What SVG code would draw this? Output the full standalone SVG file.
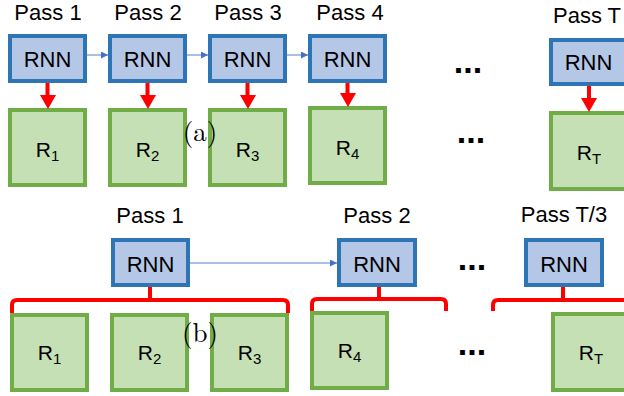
<svg xmlns="http://www.w3.org/2000/svg" width="624" height="396" viewBox="0 0 624 396">
  <defs>
    <marker id="blueHead" viewBox="0 0 10 10" refX="10" refY="5" markerWidth="7" markerHeight="7" markerUnits="userSpaceOnUse" orient="auto">
      <path d="M0,0 L10,5 L0,10 Z" fill="#4472c4"/>
    </marker>
    <style>
      .rnn rect { fill: #b4c7e7; stroke: #2e75b6; stroke-width: 4; }
      .res rect { fill: #c5e0b4; stroke: #70ad47; stroke-width: 4; }
      .lbl { font-family: "Liberation Sans", Arial, sans-serif; fill: #000; text-anchor: middle; }
      .pass { font-size: 22px; }
      .rtxt { font-size: 22px; }
      .rsub { font-size: 21px; }
      .sub { font-size: 15px; }
      .cap { font-family: "Latin Modern Roman", "Liberation Serif", "DejaVu Serif", serif; font-size: 27px; text-anchor: middle; fill: #000; }
      .dots { font-family: "Liberation Sans", Arial, sans-serif; font-size: 34px; font-weight: bold; text-anchor: middle; fill: #000; }
      .seq { stroke: #8faadc; stroke-width: 1.5; fill: none; }
      .down { fill: #ff0000; }
      .brace { stroke: #ff0000; stroke-width: 4; fill: none; stroke-linejoin: round; }
    </style>
  </defs>

  <!-- (a) one RNN pass per result -->
  <g class="lbl pass">
    <text x="48" y="20">Pass 1</text>
    <text x="148" y="20">Pass 2</text>
    <text x="248" y="20">Pass 3</text>
    <text x="350" y="20">Pass 4</text>
    <text x="553" y="23" style="text-anchor:start">Pass T</text>
  </g>

  <g id="a-rnn1" class="rnn"><rect x="10" y="36" width="75" height="45"/><text class="lbl rtxt" x="47.5" y="67">RNN</text></g>
  <g id="a-rnn2" class="rnn"><rect x="110" y="36" width="75" height="45"/><text class="lbl rtxt" x="147.5" y="67">RNN</text></g>
  <g id="a-rnn3" class="rnn"><rect x="210" y="36" width="75" height="45"/><text class="lbl rtxt" x="247.5" y="67">RNN</text></g>
  <g id="a-rnn4" class="rnn"><rect x="310" y="36" width="75" height="45"/><text class="lbl rtxt" x="347.5" y="67">RNN</text></g>
  <g id="a-rnnT" class="rnn"><rect x="551" y="40" width="75" height="44"/><text class="lbl rtxt" x="588.5" y="70">RNN</text></g>

  <g id="a-r1" class="res"><rect x="10" y="110" width="75" height="75"/><text class="lbl rsub" x="47.5" y="157">R<tspan class="sub" dy="4">1</tspan></text></g>
  <g id="a-r2" class="res"><rect x="110" y="110" width="75" height="75"/><text class="lbl rsub" x="147.5" y="157">R<tspan class="sub" dy="4">2</tspan></text></g>
  <g id="a-r3" class="res"><rect x="210" y="110" width="75" height="75"/><text class="lbl rsub" x="247.5" y="157">R<tspan class="sub" dy="4">3</tspan></text></g>
  <g id="a-r4" class="res"><rect x="310" y="108" width="75" height="75"/><text class="lbl rsub" x="347.5" y="155">R<tspan class="sub" dy="4">4</tspan></text></g>
  <g id="a-rT" class="res"><rect x="551" y="113" width="75" height="76"/><text class="lbl rsub" x="589" y="160">R<tspan class="sub" dy="4">T</tspan></text></g>

  <g id="a-connectors">
    <line class="seq" x1="87" y1="55" x2="108" y2="55" marker-end="url(#blueHead)"/>
    <line class="seq" x1="187" y1="55" x2="208" y2="55" marker-end="url(#blueHead)"/>
    <line class="seq" x1="287" y1="55" x2="308" y2="55" marker-end="url(#blueHead)"/>
    <g class="down">
      <rect x="45.5" y="83" width="4" height="13"/><polygon points="40,95 56,95 48,109"/>
      <rect x="145.5" y="83" width="4" height="13"/><polygon points="140,95 156,95 148,109"/>
      <rect x="245.5" y="83" width="4" height="13"/><polygon points="240,95 256,95 248,109"/>
      <rect x="345.5" y="83" width="4" height="11"/><polygon points="340,93 356,93 348,107"/>
      <rect x="587" y="86" width="4" height="13"/><polygon points="581,98 597,98 589,112"/>
    </g>
  </g>

  <text class="dots" x="468" y="73">...</text>
  <text class="dots" x="471" y="143">...</text>
  <text class="cap" x="200" y="141">(a)</text>

  <!-- (b) one RNN pass per group of three results -->
  <g class="lbl pass">
    <text x="150" y="223">Pass 1</text>
    <text x="377" y="223">Pass 2</text>
    <text x="564" y="222">Pass T/3</text>
  </g>

  <g id="b-rnn1" class="rnn"><rect x="113" y="240" width="75" height="45"/><text class="lbl rtxt" x="150.5" y="272">RNN</text></g>
  <g id="b-rnn2" class="rnn"><rect x="339" y="240" width="76" height="45"/><text class="lbl rtxt" x="377" y="272">RNN</text></g>
  <g id="b-rnnT3" class="rnn"><rect x="526" y="240" width="76" height="45"/><text class="lbl rtxt" x="564" y="272">RNN</text></g>

  <g id="b-r1" class="res"><rect x="12" y="315" width="75" height="75"/><text class="lbl rsub" x="49.5" y="360">R<tspan class="sub" dy="4">1</tspan></text></g>
  <g id="b-r2" class="res"><rect x="112" y="315" width="75" height="75"/><text class="lbl rsub" x="149.5" y="360">R<tspan class="sub" dy="4">2</tspan></text></g>
  <g id="b-r3" class="res"><rect x="212" y="315" width="75" height="75"/><text class="lbl rsub" x="249.5" y="360">R<tspan class="sub" dy="4">3</tspan></text></g>
  <g id="b-r4" class="res"><rect x="312" y="313" width="75" height="75"/><text class="lbl rsub" x="349.5" y="358">R<tspan class="sub" dy="4">4</tspan></text></g>
  <g id="b-rT" class="res"><rect x="553" y="314" width="75" height="76"/><text class="lbl rsub" x="591" y="360">R<tspan class="sub" dy="4">T</tspan></text></g>

  <g id="b-connectors">
    <line class="seq" x1="190" y1="263" x2="337" y2="263" marker-end="url(#blueHead)"/>
    <path class="brace" d="M150,287 V300 M12,313 V305 Q12,300 17,300 H283 Q288,300 288,305 V313"/>
    <path class="brace" d="M379,287 V299 M312,311 V304 Q312,299 317,299 H441 Q446,299 446,304 V311"/>
    <path class="brace" d="M563,287 V300 M493,311 V305 Q493,300 498,300 H630"/>
  </g>

  <text class="dots" x="472" y="270">...</text>
  <text class="dots" x="472" y="355">...</text>
  <text class="cap" x="200" y="342">(b)</text>
</svg>
